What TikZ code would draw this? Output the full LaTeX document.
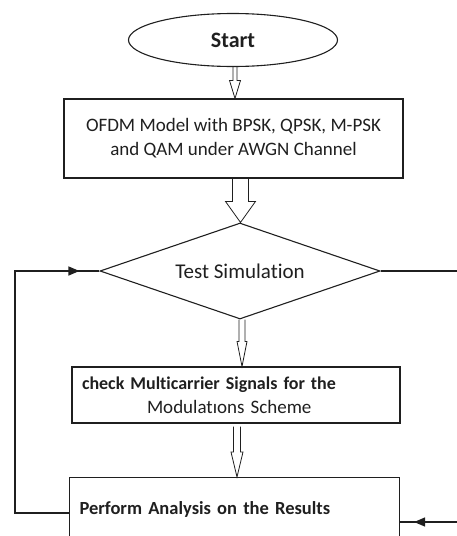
\documentclass[tikz,border=0pt]{standalone}
\usepackage{fontspec}
\setmainfont{Carlito}[Ligatures=NoCommon]
\usetikzlibrary{shapes.geometric,arrows.meta,calc,decorations.markings}

\begin{document}
\begin{tikzpicture}[x=1pt,y=-1pt,line width=1.1pt,color=black!88,font=\fontsize{18}{24}\selectfont,
  box/.style={draw,rectangle,inner sep=0pt},
  harrow/.style n args={3}{line width=.8pt,to path={let \p1=(\tikztostart),\p2=(\tikztotarget) in
    (\x1-#1,\y1)--(\x1-#1,\y2+#3)--(\x1-#2,\y2+#3)--(\x1,\y2)--(\x1+#2,\y2+#3)--(\x1+#1,\y2+#3)--(\x1+#1,\y1)}},
  fb/.style={line width=1.4pt,postaction={decorate},decoration={markings,mark=at position -#1 with {\arrow{Triangle[length=11pt,width=9pt]}}}}]
\useasboundingbox (0,0) rectangle (457,536);
\clip (0,0) rectangle (457,536);
\node[draw,ellipse,minimum width=209pt,minimum height=53pt,inner sep=0pt,font=\fontsize{22}{24}\selectfont\bfseries] (start) at (233,40) {Start};
\node[box,minimum width=339pt,minimum height=79pt,align=center,font=\fontsize{19}{24}\selectfont] (model) at (233.5,138.5) {OFDM Model with BPSK, QPSK, M-PSK\\and QAM under AWGN Channel};
\node[draw,diamond,aspect=2.9,minimum width=280pt,minimum height=96pt,inner sep=0pt,font=\fontsize{21}{24}\selectfont] (test) at (240,271) {Test Simulation};
\node[box,minimum width=328pt,minimum height=56pt,text width=308pt,align=left] (check) at (236,395) {\textbf{check Multicarrier Signals for the}\\\hspace*{65pt}{\fontsize{19}{24}\selectfont Modulatıons Scheme}};
\node[box,anchor=north west,text width=310pt,align=left,inner xsep=10pt,inner ysep=10pt,text height=27pt,text depth=40pt,font=\fontsize{18.5}{24}\selectfont] (result) at (69,477) {\textbf{Perform Analysis on the Results}};
\draw[harrow={2pt}{5.5pt}{18pt}] ([xshift=2pt]start.south) to (model.north);
\draw[harrow={8pt}{15pt}{21pt}] ([xshift=7pt]model.south) to (test.north);
\draw[harrow={3pt}{5pt}{25pt}] ([xshift=2pt]test.south) to (check.north);
\draw[harrow={3.5pt}{6pt}{25pt}] ([xshift=1pt,yshift=-3pt]check.south) to (result.north);
\coordinate (lb) at (15,513); \coordinate (lt) at (15,271); \coordinate (rt) at (457,271); \coordinate (rb) at (457,522);
\draw[fb=20pt] (result.west |- lb) -- (lb) -- (lt) -- (test.west);
\draw (test.east) -- (rt);
\draw[fb=14pt] (rb) -- (result.east |- rb);
\end{tikzpicture}
\end{document}
